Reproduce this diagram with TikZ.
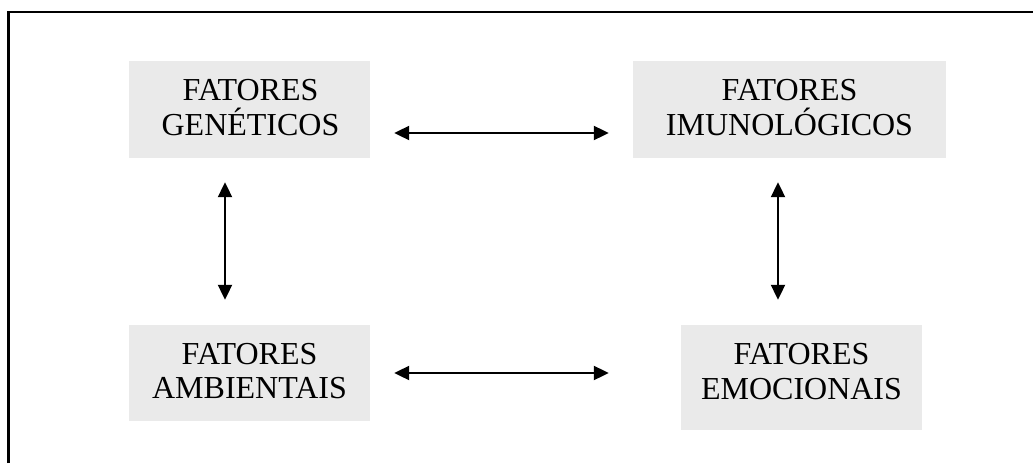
\documentclass[tikz,border=0pt]{standalone}
\usepackage{fontspec}
\setmainfont{Liberation Serif}
\usetikzlibrary{arrows.meta}
\definecolor{boxgray}{RGB}{234,234,234}
\tikzset{
  box/.style={draw=none, fill=boxgray, inner sep=0pt, rectangle},
  txt/.style={inner sep=0pt, align=center, font=\fontsize{32}{34.5}\selectfont},
  link/.style={line width=2.1pt, {Triangle[length=15pt,width=14pt]}-{Triangle[length=15pt,width=14pt]}},
  frameline/.style={line width=2.1pt}
}
\begin{document}
\begin{tikzpicture}[x=1pt,y=-1pt]
\useasboundingbox (0,0) rectangle (1033,463);
% frame (cropped)
\draw[frameline] (8.5,463) -- (8.5,12) -- (1033,12);
% boxes
\node[box, minimum width=241pt, minimum height=97pt] (gen) at (249.5,109.5) {};
\node[box, minimum width=313pt, minimum height=97pt] (imu) at (789.5,109.5) {};
\node[box, minimum width=241pt, minimum height=96pt] (amb) at (249.5,373) {};
\node[box, minimum width=241pt, minimum height=105pt] (emo) at (801.5,377.5) {};
% texts
\node[txt] (gentxt) at (250.5,107.5) {FATORES\\GENÉTICOS};
\node[txt] (imutxt) at (789.5,107.5) {FATORES\\IMUNOLÓGICOS};
\node[txt] (ambtxt) at (249.5,371) {FATORES\\AMBIENTAIS};
\node[txt] (emotxt) at (801.5,371.5) {FATORES\\EMOCIONAIS};
% connectors
\draw[link, shorten <=24pt, shorten >=24pt] ([yshift=-23.5pt]gen.east) -- ([yshift=-23.5pt]gen.east -| imu.west);
\draw[link, shorten <=24pt, shorten >=72pt] (amb.east) -- (amb.east -| emo.west);
\draw[link, shorten <=24pt, shorten >=25pt] ([xshift=-24.5pt]gen.south) -- ([xshift=-24.5pt]amb.north);
\draw[link, shorten <=24pt, shorten >=25pt] ([xshift=-11.5pt]imu.south) -- ([xshift=-11.5pt]imu.south |- emo.north);
\end{tikzpicture}
\end{document}
